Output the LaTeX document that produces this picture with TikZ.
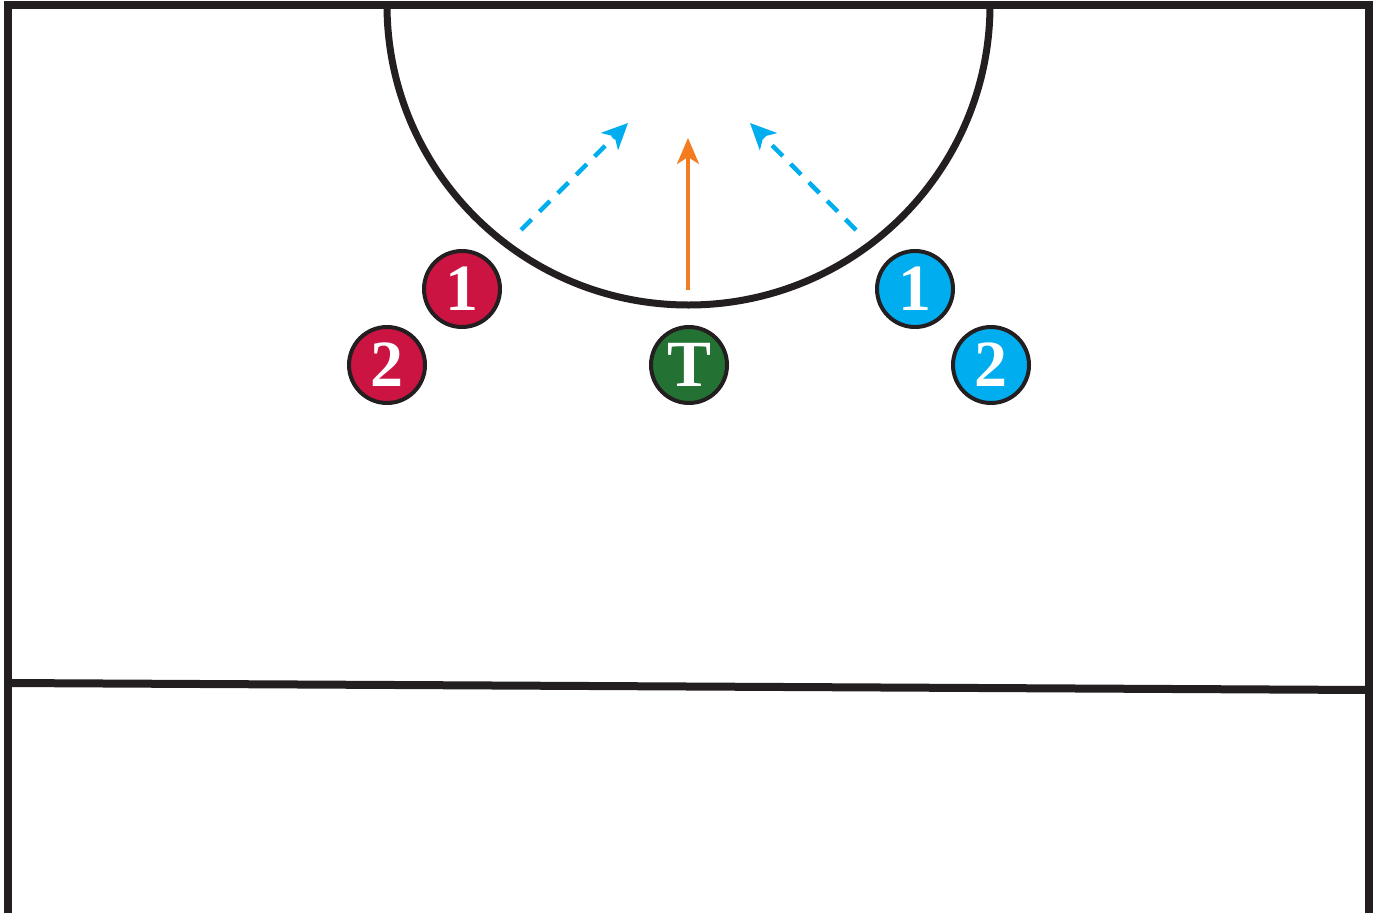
\documentclass[tikz,border=0pt]{standalone}
\usepackage{fontspec}
\setmainfont{Liberation Serif}
\newfontfamily\playerfont{Liberation Serif Bold}
\usetikzlibrary{arrows.meta}
\definecolor{courtline}{HTML}{231F20}
\definecolor{redteam}{HTML}{CC1442}
\definecolor{blueteam}{HTML}{00AEEF}
\definecolor{greenteam}{HTML}{237133}
\definecolor{orangearrow}{HTML}{F47B20}
\tikzset{
  court/.style={draw=courtline, line width=8pt, line join=miter},
  player/.style={circle, draw=courtline, line width=4pt, minimum size=76pt, inner sep=0pt,
    text=white, font=\playerfont\fontsize{66}{66}\selectfont},
  runarrow/.style={draw=blueteam, line width=4.5pt, dash pattern=on 15pt off 11pt,
    -{Stealth[length=26pt, width=24pt, inset=7pt]}},
  movearrow/.style={draw=orangearrow, line width=3.5pt,
    -{Stealth[length=26pt, width=22pt, inset=7pt]}},
}
\begin{document}
\begin{tikzpicture}[x=1pt, y=-1pt]
\useasboundingbox (0,0) rectangle (1380,913);
% court
\draw[court] (8,913) -- (8,5) -- (1369,5) -- (1369,913);
\draw[court] (8,683) -- (1369,690);
\draw[court, line width=7pt] (387,5) arc[start angle=180, end angle=0, x radius=301.5, y radius=300];
% players
\node[player, fill=redteam] (r1) at (462,289) {1};
\node[player, fill=redteam] (r2) at (387,365) {2};
\node[player, fill=greenteam] (t) at (689,365) {T};
\node[player, fill=blueteam] (b1) at (915,289) {1};
\node[player, fill=blueteam] (b2) at (991,365) {2};
% arrows
\coordinate (ls) at (521,230);
\coordinate (le) at (628,123);
\coordinate (rs) at (856,230);
\coordinate (re) at (750,123);
\coordinate (os) at (688,290);
\coordinate (oe) at (688,138);
\draw[runarrow] (ls) -- (le);
\draw[runarrow] (rs) -- (re);
\draw[movearrow] (os) -- (oe);
\end{tikzpicture}
\end{document}
